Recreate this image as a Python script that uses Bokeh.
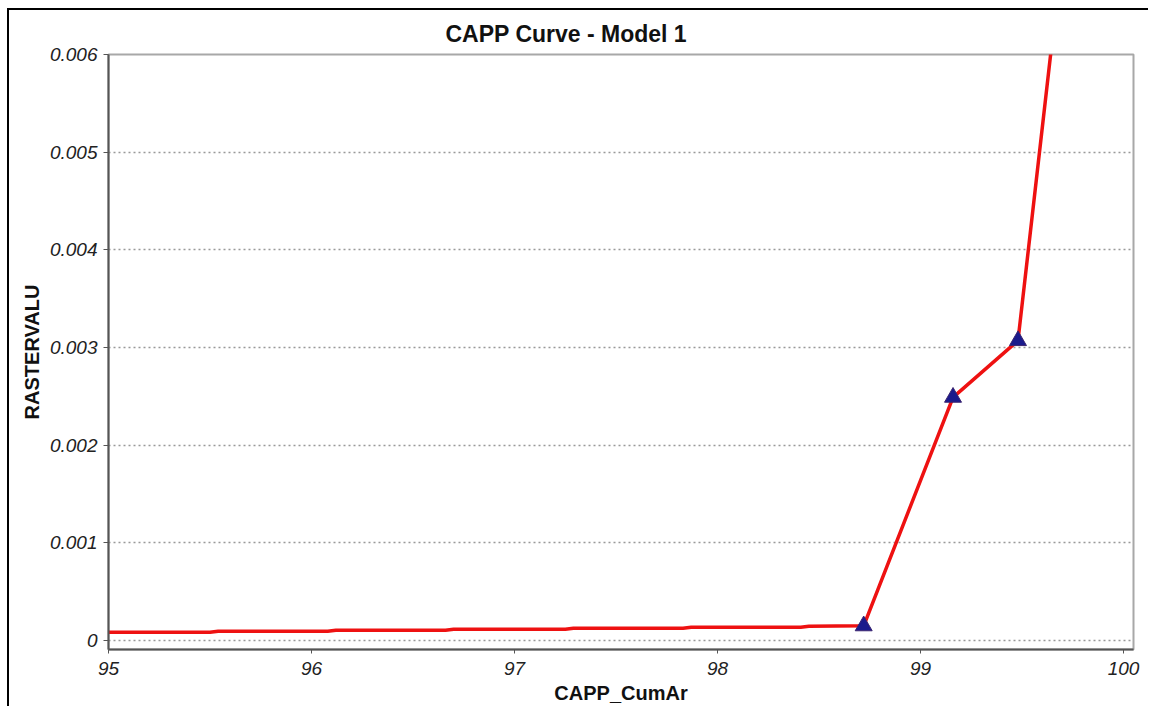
from bokeh.plotting import figure
from bokeh.models import Range1d, FixedTicker
from bokeh.embed import file_html
from bokeh.resources import INLINE

# ---- data ----
curve_x = [94.90, 95.50, 95.54, 96.08, 96.12, 96.66, 96.70, 97.25, 97.29,
           97.83, 97.87, 98.41, 98.45, 98.72, 99.16, 99.48, 99.66]
curve_y = [0.000085, 0.000085, 0.000095, 0.000095, 0.000105, 0.000105,
           0.000115, 0.000115, 0.000125, 0.000125, 0.000135, 0.000135,
           0.000145, 0.000150, 0.00249, 0.00307, 0.00635]
marker_x = [98.72, 99.16, 99.48]
marker_y = [0.000150, 0.00249, 0.00307]
x_ticks = [95, 96, 97, 98, 99, 100]
x_tick_labels = ["95", "96", "97", "98", "99", "100"]
y_ticks = [0, 0.001, 0.002, 0.003, 0.004, 0.005, 0.006]
y_tick_labels = ["0", "0.001", "0.002", "0.003", "0.004", "0.005", "0.006"]

FONT = "Liberation Sans"

p = figure(width=1141, height=698, output_backend="svg", toolbar_location=None,
           x_range=Range1d(95, 100.049), y_range=Range1d(-0.000092, 0.006),
           title="CAPP Curve - Model  1",
           min_border_left=99, min_border_right=17, min_border_top=44,
           min_border_bottom=59,
           background_fill_color="white", border_fill_color="white",
           styles={"margin-left": "7px", "margin-top": "8px",
                   "border-top": "2px solid black", "border-left": "2px solid black"})

p.outline_line_color = "#a8a8a8"
p.outline_line_width = 2

# title
p.title.text_font = FONT
p.title.text_font_size = "23px"
p.title.text_font_style = "bold"
p.title.text_color = "#111111"
p.title.align = "left"
p.title.offset = 337
p.title.standoff = 15

# axes
for ax in (p.xaxis[0], p.yaxis[0]):
    ax.axis_line_color = "#555555"
    ax.axis_line_width = 2
    ax.major_tick_line_color = "#555555"
    ax.major_tick_line_width = 1
    ax.major_tick_in = 0
    ax.minor_tick_line_color = None
    ax.major_label_text_font = FONT
    ax.major_label_text_font_style = "italic"
    ax.major_label_text_font_size = "19px"
    ax.major_label_text_color = "#222222"
    ax.axis_label_text_font = FONT
    ax.axis_label_text_font_style = "bold"
    ax.axis_label_text_font_size = "20px"
    ax.axis_label_text_color = "#111111"

p.xaxis.axis_label = "CAPP_CumAr"
p.xaxis.ticker = FixedTicker(ticks=x_ticks)
p.xaxis.major_label_overrides = dict(zip(x_ticks, x_tick_labels))
p.xaxis.major_tick_out = 4
p.xaxis.major_label_standoff = 8
p.xaxis.axis_label_standoff = 4

p.yaxis.axis_label = "RASTERVALU"
p.yaxis.ticker = FixedTicker(ticks=y_ticks)
p.yaxis.major_label_overrides = dict(zip(y_ticks, y_tick_labels))
p.yaxis.major_tick_out = 5
p.yaxis.major_label_standoff = 6
p.yaxis.axis_label_standoff = 4

# grid
p.xgrid.grid_line_color = None
p.ygrid.grid_line_color = "#999999"
p.ygrid.grid_line_dash = "2 3"
p.ygrid.grid_line_width = 1.5

# data
p.line(curve_x, curve_y, line_color="#ee1111", line_width=3.5)
p.scatter(marker_x, marker_y, marker="triangle", size=17,
          fill_color="#1a1a8c", line_color="#3b2570", line_width=1)

open("out.html", "w").write(file_html(p, INLINE))
